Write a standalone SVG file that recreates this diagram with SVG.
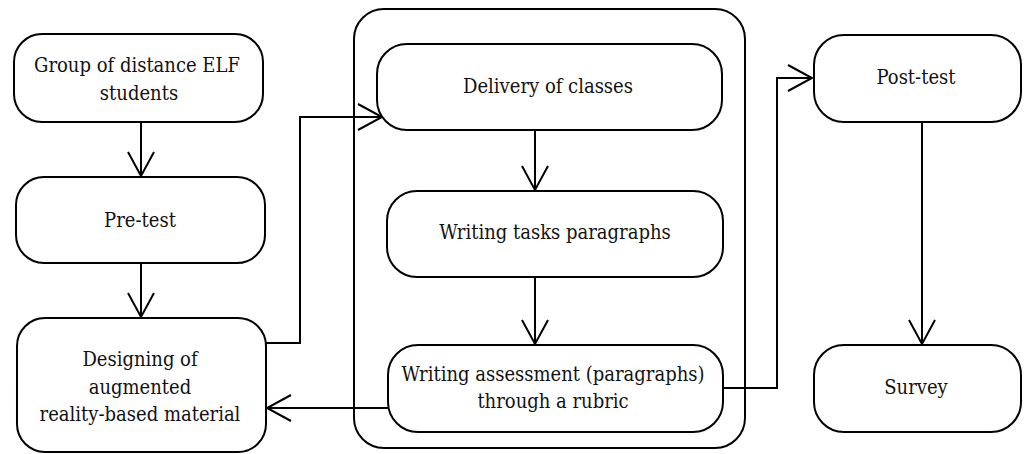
<svg xmlns="http://www.w3.org/2000/svg" width="1027" height="454" viewBox="0 0 1027 454">
<style>
.box{fill:#fff;stroke:#000;stroke-width:2}
.cont{fill:none;stroke:#000;stroke-width:2}
.ln{fill:none;stroke:#000;stroke-width:2}
.t{font-family:'DejaVu Serif Condensed','DejaVu Serif',serif;font-stretch:condensed;font-size:20px;fill:#111;text-anchor:middle}
</style>
<defs>
<marker id="v" markerUnits="userSpaceOnUse" markerWidth="30" markerHeight="30" viewBox="-26 -15 28 30" refX="0" refY="0" orient="auto">
<path d="M-24,-13 L0,0 L-24,13" fill="none" stroke="#000" stroke-width="2"/>
</marker>
</defs>
<g id="container"><rect class="cont" x="354" y="9" width="391" height="439" rx="30"/></g>
<g id="connectors">
<path class="ln" d="M141,122 V176" marker-end="url(#v)"/>
<path class="ln" d="M141,263 V317" marker-end="url(#v)"/>
<path class="ln" d="M266,343 H300 V117 H382" marker-end="url(#v)"/>
<path class="ln" d="M535,130 V190" marker-end="url(#v)"/>
<path class="ln" d="M535,277 V344" marker-end="url(#v)"/>
<path class="ln" d="M388,408 H267" marker-end="url(#v)"/>
<path class="ln" d="M723,388 H777 V78 H812" marker-end="url(#v)"/>
<path class="ln" d="M922,122 V344" marker-end="url(#v)"/>
</g>
<g id="n1"><rect class="box" x="14" y="34" width="249" height="88" rx="28"/>
<text class="t" x="137" y="72">Group of distance ELF</text><text class="t" x="139" y="100">students</text></g>
<g id="n2"><rect class="box" x="16" y="177" width="249" height="86" rx="28"/>
<text class="t" x="140" y="227">Pre-test</text></g>
<g id="n3"><rect class="box" x="17" y="318" width="249" height="134" rx="28"/>
<text class="t" x="140" y="366">Designing of</text><text class="t" x="140" y="394">augmented</text><text class="t" x="140" y="421">reality-based material</text></g>
<g id="n4"><rect class="box" x="377" y="44" width="345" height="86" rx="30"/>
<text class="t" x="548" y="93">Delivery of classes</text></g>
<g id="n5"><rect class="box" x="387" y="191" width="336" height="86" rx="30"/>
<text class="t" x="555" y="239">Writing tasks paragraphs</text></g>
<g id="n6"><rect class="box" x="388" y="345" width="335" height="87" rx="30"/>
<text class="t" x="553" y="381">Writing assessment (paragraphs)</text><text class="t" x="553" y="408">through a rubric</text></g>
<g id="n7"><rect class="box" x="814" y="35" width="207" height="87" rx="30"/>
<text class="t" x="916" y="84">Post-test</text></g>
<g id="n8"><rect class="box" x="814" y="345" width="207" height="87" rx="30"/>
<text class="t" x="916" y="394">Survey</text></g>
</svg>
